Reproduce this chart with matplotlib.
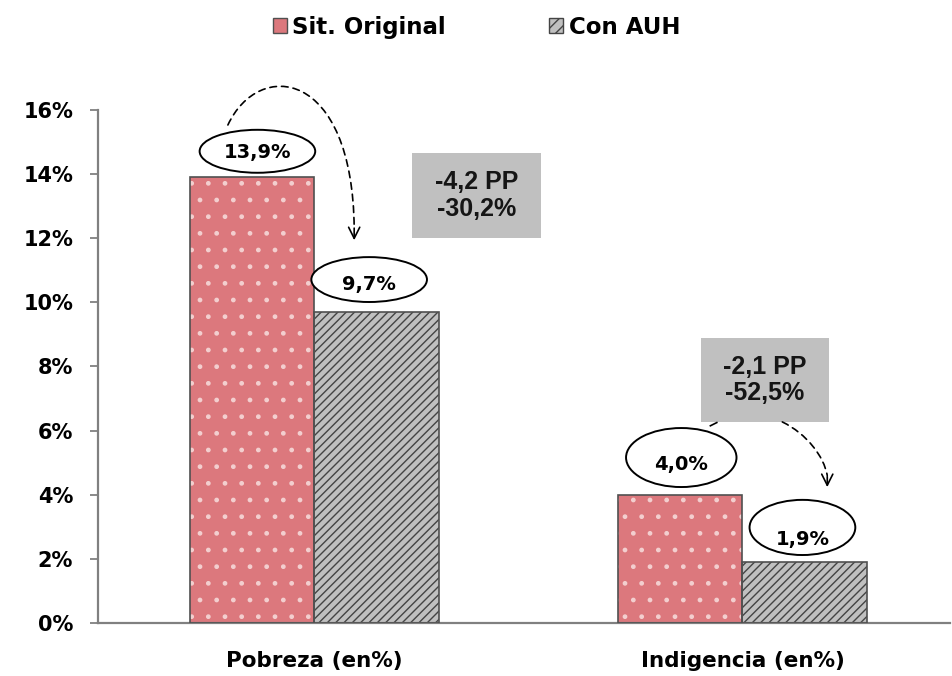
import numpy as np
import matplotlib.pyplot as plt
from matplotlib import font_manager
from matplotlib.patches import FancyArrowPatch, Ellipse, Rectangle, Patch
from matplotlib.path import Path

plt.rcParams['font.family'] = ['DejaVu Sans']
plt.rcParams['hatch.linewidth'] = 1.0

categories = ["Pobreza (en%)", "Indigencia (en%)"]
series_names = ["Sit. Original", "Con AUH"]
sit_original = [13.9, 4.0]
con_auh = [9.7, 1.9]
value_labels_orig = ["13,9%", "4,0%"]
value_labels_auh = ["9,7%", "1,9%"]
change_labels = ["-4,2 PP\n-30,2%", "-2,1 PP\n-52,5%"]
yticks = [0, 2, 4, 6, 8, 10, 12, 14, 16]

pink = '#DC787D'
dot = '#f3cfcf'
hatch_bg = '#c0c0c0'
hatch_fg = '#444444'
gray = '#808080'

# Arial-like bold for the grey boxes (avoid the narrow variant)
box_font = None
for f in font_manager.fontManager.ttflist:
    if f.name == 'Liberation Sans' and f.weight == 700 and f.style == 'normal' and 'Narrow' not in f.fname:
        box_font = font_manager.FontProperties(fname=f.fname, size=18)
        break
if box_font is None:
    box_font = font_manager.FontProperties(family='DejaVu Sans', weight='bold', size=15.5)

fig = plt.figure(figsize=(9.53, 6.76), dpi=100)
ax = fig.add_axes([0.103, 0.0784, 0.894, 0.759])

x = np.arange(len(categories))
w = 0.29

# Sit. Original: pink with light dots
ax.bar(x - w / 2, sit_original, w, color=pink, edgecolor=dot, hatch='.', linewidth=0, zorder=2)
ax.bar(x - w / 2, sit_original, w, fill=False, edgecolor='#505050', linewidth=1.2, zorder=3)
# Con AUH: dark diagonal hatch
ax.bar(x + w / 2, con_auh, w, color=hatch_bg, edgecolor=hatch_fg, hatch='////', linewidth=0, zorder=2)
ax.bar(x + w / 2, con_auh, w, fill=False, edgecolor='#505050', linewidth=1.2, zorder=3)

ax.set_xlim(-0.505, 1.485)
ax.set_ylim(0, 16)
ax.set_yticks(yticks)
ax.set_yticklabels([f"{v}%" for v in yticks], fontsize=15, fontweight='bold')
ax.set_xticks(x)
ax.set_xticklabels(categories, fontsize=15.5, fontweight='bold')
ax.tick_params(axis='x', length=0, pad=20)
ax.tick_params(axis='y', length=6, width=1.3, color=gray, pad=12)
for s in ['top', 'right']:
    ax.spines[s].set_visible(False)
ax.spines['left'].set_color(gray)
ax.spines['left'].set_linewidth(1.6)
ax.spines['bottom'].set_color(gray)
ax.spines['bottom'].set_linewidth(1.6)

# value labels in ellipses: (center x, center y, width, height, text y)
orig_ell = [(-0.133, 14.71, 0.270, 1.34, 14.66), (0.857, 5.16, 0.258, 1.84, 4.95)]
auh_ell = [(0.128, 10.71, 0.270, 1.40, 10.55), (1.14, 2.98, 0.247, 1.72, 2.60)]
for (cx, cy, ew, eh, ty), lab in zip(orig_ell + auh_ell, value_labels_orig + value_labels_auh):
    ax.add_patch(Ellipse((cx, cy), ew, eh, fc='white', ec='black', lw=1.4, zorder=5, clip_on=False))
    ax.text(cx, ty, lab, ha='center', va='center', fontsize=14, fontweight='heavy', zorder=6)

# change boxes: (left, bottom, width, height)
boxes = [(0.228, 12.01, 0.302, 2.65), (0.902, 6.27, 0.300, 2.62)]
for (bx, by, bw, bh), lab in zip(boxes, change_labels):
    ax.add_patch(Rectangle((bx, by), bw, bh, fc='#c0c0c0', ec='none', zorder=5))
    ax.text(bx + bw / 2, by + bh / 2, lab, ha='center', va='center', fontproperties=box_font,
            color='#151515', linespacing=1.15, zorder=6)

# dashed arrows
curve1 = Path([(-0.202, 15.53), (-0.13, 17.6), (0.09, 17.3), (0.093, 12.3)],
              [Path.MOVETO, Path.CURVE4, Path.CURVE4, Path.CURVE4])
ax.add_patch(FancyArrowPatch(path=curve1, arrowstyle='-', linestyle=(0, (4, 3)),
                             color='black', lw=1.2, clip_on=False, zorder=6))
ax.annotate('', xy=(0.093, 11.85), xytext=(0.093, 12.4),
            arrowprops=dict(arrowstyle='->,head_length=0.8,head_width=0.4', color='black', lw=1.2))

curve2 = Path([(1.093, 6.27), (1.15, 5.9), (1.19, 5.2), (1.198, 4.6)],
              [Path.MOVETO, Path.CURVE4, Path.CURVE4, Path.CURVE4])
ax.add_patch(FancyArrowPatch(path=curve2, arrowstyle='-', linestyle=(0, (4, 3)),
                             color='black', lw=1.2, clip_on=False, zorder=6))
ax.annotate('', xy=(1.198, 4.15), xytext=(1.198, 4.65),
            arrowprops=dict(arrowstyle='->,head_length=0.8,head_width=0.4', color='black', lw=1.2))
ax.plot([0.925, 0.94], [6.15, 6.25], color='black', lw=1.2, zorder=6)

# legend
handles = [Patch(facecolor=pink, edgecolor='#505050', label=series_names[0]),
           Patch(facecolor=hatch_bg, edgecolor=hatch_fg, hatch='///', label=series_names[1])]
fig.legend(handles=handles, loc='center', bbox_to_anchor=(0.5, 0.96), ncol=2, frameon=False,
           prop=dict(size=16.5, weight='bold'), handlelength=0.6, handleheight=0.6,
           handletextpad=0.25, columnspacing=4.5)

fig.savefig('out.png', dpi=100)
